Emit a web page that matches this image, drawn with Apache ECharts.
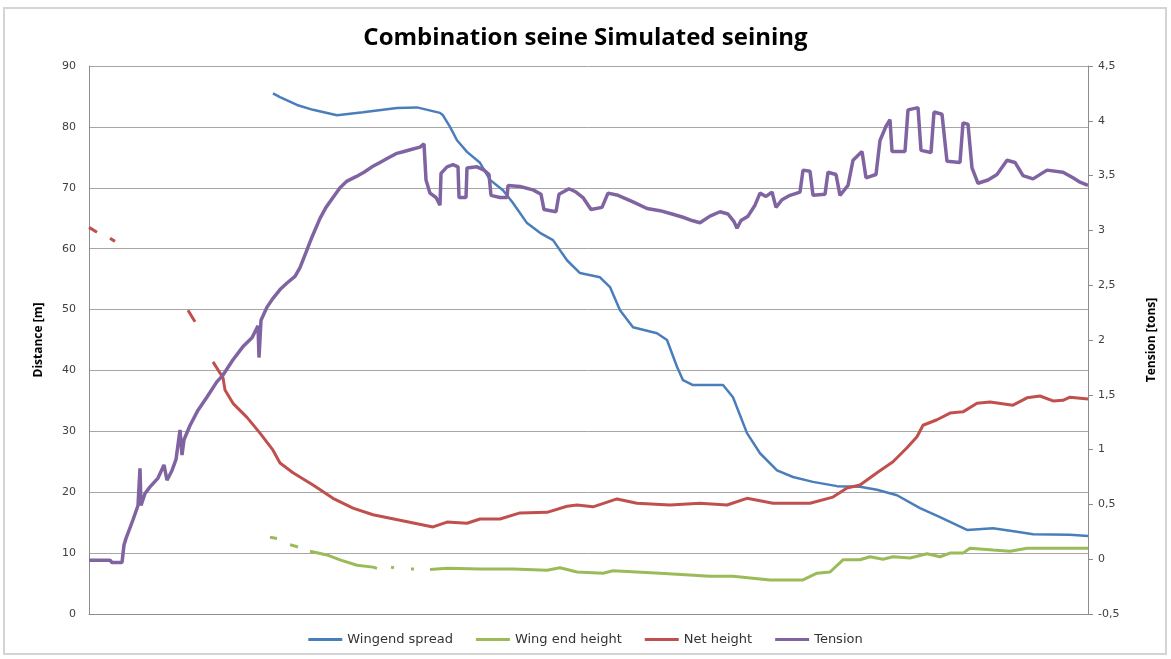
<!DOCTYPE html>
<html>
<head>
<meta charset="utf-8">
<script src="https://cdn.jsdelivr.net/npm/echarts@6/dist/echarts.min.js"></script>
<style>html,body{margin:0;padding:0;background:#fff}#c{width:1171px;height:659px}</style>
</head>
<body>
<div id="c"></div>
<script>
// Sample index (x) and values; null marks a gap in the record
const spreadX = [184,191,208,224,248,274,308,328,351,354,361,368,378,391,401,414,424,438,451,464,478,491,511,521,531,544,568,578,588,594,604,634,644,658,671,688,704,724,748,771,788,808,831,851,878,904,928,944,981,999];
const spreadY = [85.5,84.9,83.6,82.8,81.9,82.4,83.1,83.2,82.3,81.9,80.0,77.8,75.9,74.1,71.3,69.6,67.5,64.2,62.6,61.4,58.1,56.0,55.3,53.7,49.9,47.1,46.1,45.0,40.6,38.4,37.6,37.6,35.6,29.7,26.4,23.6,22.5,21.7,21.0,20.9,20.4,19.5,17.4,15.9,13.8,14.1,13.5,13.1,13.0,12.8];

const wingHX = [181,188,194,201,209,215,221,238,251,268,284,288,295,302,305,313,322,325,333,341,358,391,424,458,471,488,514,524,571,621,644,681,714,728,741,754,771,781,794,804,821,838,851,861,874,881,904,921,938,981,999];
const wingHY = [12.6,12.4,null,11.4,11.0,null,10.3,9.7,8.9,8.0,7.7,7.5,null,7.7,7.6,null,7.4,7.4,null,7.3,7.5,7.4,7.4,7.2,7.6,6.9,6.7,7.1,6.7,6.2,6.2,5.6,5.6,6.7,6.9,8.9,8.9,9.4,9.0,9.4,9.2,9.9,9.4,10.0,10.0,10.8,10.5,10.3,10.8,10.8,10.8];

const netX = [0,8,14,21,26,60,99,106,115,124,134,136,144,158,171,184,191,204,224,244,264,284,311,344,358,378,391,411,431,458,478,488,504,528,548,581,611,638,658,684,721,744,758,771,788,804,818,828,834,848,861,874,888,901,924,938,951,964,974,981,999];
const netY = [63.5,62.7,null,61.7,61.2,null,49.9,48.0,null,41.4,38.8,36.8,34.6,32.3,29.7,26.9,24.8,23.2,21.2,19.0,17.4,16.3,15.4,14.3,15.1,14.9,15.6,15.6,16.6,16.7,17.7,17.9,17.6,18.9,18.2,17.9,18.2,17.9,19.0,18.2,18.2,19.2,20.7,21.2,23.2,25.0,27.3,29.1,31.0,31.9,33.0,33.2,34.6,34.8,34.3,35.5,35.8,35.0,35.1,35.6,35.3];

const tensionX = [0,21,23,33,35,37,44,49,51,52,56,61,69,75,78,83,87,91,93,95,101,109,118,128,134,144,154,163,169,170,172,178,184,191,198,206,211,217,223,231,237,244,251,258,267,275,283,291,299,307,315,323,331,335,337,341,347,351,352,358,364,369,370,377,378,388,395,400,402,411,418,419,431,444,452,455,467,470,480,487,494,502,513,519,529,544,558,571,583,594,603,611,621,631,639,645,648,652,659,666,671,677,683,687,693,701,711,714,721,724,736,739,747,751,759,764,773,777,787,791,797,801,803,816,819,829,832,842,845,853,858,871,874,879,883,889,899,908,918,926,934,944,958,974,984,991,999];
const tensionY = [-0.01,-0.01,-0.03,-0.03,0.13,0.19,0.36,0.49,0.83,0.49,0.60,0.66,0.74,0.86,0.72,0.81,0.91,1.18,0.95,1.09,1.22,1.36,1.48,1.62,1.68,1.82,1.94,2.02,2.13,1.84,2.18,2.30,2.38,2.46,2.52,2.58,2.66,2.80,2.94,3.11,3.21,3.30,3.39,3.45,3.49,3.53,3.58,3.62,3.66,3.70,3.72,3.74,3.76,3.79,3.46,3.34,3.30,3.23,3.52,3.58,3.60,3.58,3.30,3.30,3.57,3.58,3.55,3.51,3.32,3.30,3.30,3.41,3.40,3.37,3.33,3.19,3.17,3.33,3.38,3.35,3.30,3.19,3.21,3.34,3.32,3.26,3.20,3.18,3.15,3.12,3.09,3.07,3.13,3.17,3.15,3.08,3.02,3.09,3.13,3.23,3.34,3.31,3.35,3.21,3.28,3.32,3.35,3.55,3.54,3.32,3.33,3.53,3.51,3.32,3.41,3.64,3.72,3.48,3.51,3.82,3.95,4.01,3.72,3.72,4.10,4.12,3.73,3.71,4.08,4.06,3.63,3.62,3.98,3.97,3.57,3.43,3.46,3.51,3.64,3.62,3.50,3.47,3.55,3.53,3.48,3.44,3.41];

const leftTicks = {min: 0, max: 90, interval: 10};
const rightTicks = {min: -0.5, max: 4.5, interval: 0.5};

function zip(xs, ys){ return xs.map((x,i)=>[x, ys[i]]); }

const chart = echarts.init(document.getElementById('c'));
const labelFont = {fontFamily:'DejaVu Sans', fontSize:11, color:'#404040'};
chart.setOption({
  animation:false,
  backgroundColor:'#fff',
  graphic:[{type:'rect', shape:{x:4,y:8,width:1162,height:646}, style:{fill:'none', stroke:'#d4d4d4', lineWidth:2}, silent:true}],
  title:{text:'Combination seine Simulated seining', left:'center', top:21,
    textStyle:{fontFamily:"'Open Sans',sans-serif", fontWeight:'bold', fontSize:24, color:'#000'}},
  legend:{bottom:8, left:'center', itemWidth:34, itemHeight:3, itemGap:23, icon:'rect',
    textStyle:{fontFamily:'DejaVu Sans', fontSize:13, color:'#333'},
    data:['Wingend spread','Wing end height','Net height','Tension']},
  grid:{left:89, right:83, top:66, bottom:45},
  xAxis:{type:'value', min:0, max:999, axisLabel:{show:false}, axisTick:{show:false}, splitLine:{show:false},
    axisLine:{lineStyle:{color:'#8c8c8c'}}},
  yAxis:[
    {type:'value', min:leftTicks.min, max:leftTicks.max, interval:leftTicks.interval, position:'left',
      name:'Distance [m]', nameLocation:'middle', nameGap:44,
      nameTextStyle:{fontFamily:"'Liberation Sans Narrow','Open Sans',sans-serif", fontWeight:'bold', fontSize:12, color:'#000'},
      axisLine:{show:true, lineStyle:{color:'#8c8c8c'}}, axisTick:{show:false},
      axisLabel:Object.assign({margin:13}, labelFont),
      splitLine:{lineStyle:{color:'#a6a6a6'}}},
    {type:'value', min:rightTicks.min, max:rightTicks.max, interval:rightTicks.interval, position:'right',
      name:'Tension [tons]', nameLocation:'middle', nameGap:58, nameRotate:90,
      nameTextStyle:{fontFamily:"'Liberation Sans Narrow','Open Sans',sans-serif", fontWeight:'bold', fontSize:12, color:'#000'},
      axisLine:{show:true, lineStyle:{color:'#8c8c8c'}}, axisTick:{show:true, length:5, lineStyle:{color:'#8c8c8c'}},
      axisLabel:Object.assign({margin:10, formatter:v=>String(Math.round(v*10)/10).replace('.',',')}, labelFont),
      splitLine:{show:false}}
  ],
  series:[
    {name:'Wingend spread', type:'line', yAxisIndex:0, showSymbol:false, symbol:'none', data:zip(spreadX, spreadY),
      lineStyle:{color:'#4a7ebb', width:2.5}, itemStyle:{color:'#4a7ebb'}},
    {name:'Wing end height', type:'line', yAxisIndex:0, showSymbol:false, symbol:'none', data:zip(wingHX, wingHY),
      lineStyle:{color:'#9bbb59', width:3}, itemStyle:{color:'#9bbb59'}},
    {name:'Net height', type:'line', yAxisIndex:0, showSymbol:false, symbol:'none', data:zip(netX, netY),
      lineStyle:{color:'#c0504d', width:3}, itemStyle:{color:'#c0504d'}},
    {name:'Tension', type:'line', yAxisIndex:1, showSymbol:false, symbol:'none', data:zip(tensionX, tensionY),
      lineStyle:{color:'#8064a2', width:3.5}, itemStyle:{color:'#8064a2'}}
  ]
});
</script>
</body>
</html>
